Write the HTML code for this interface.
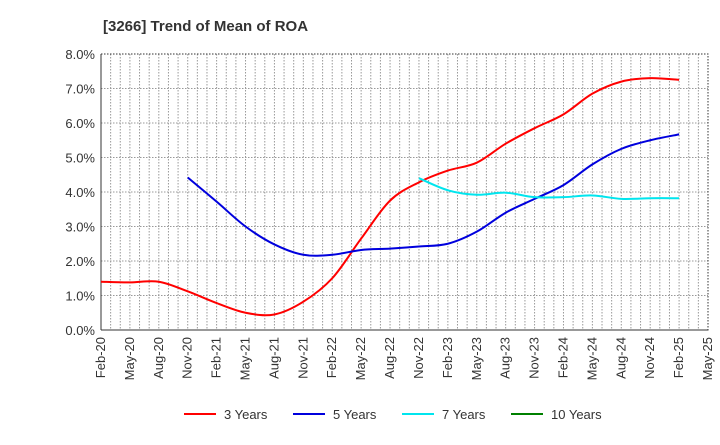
<!DOCTYPE html>
<html><head><meta charset="utf-8"><style>
body{margin:0;background:#fff;font-family:"Liberation Sans",sans-serif}
</style></head><body>
<svg id="c" width="720" height="440" xmlns="http://www.w3.org/2000/svg">
<text x="103" y="31" font-size="15" font-weight="bold" fill="#333">[3266]  Trend of Mean of ROA</text>
<g id="grid"></g><g id="axes"></g><g id="series"></g><g id="legend"></g>
</svg>
<script>
const xLabels=["Feb-20","May-20","Aug-20","Nov-20","Feb-21","May-21","Aug-21","Nov-21","Feb-22","May-22","Aug-22","Nov-22","Feb-23","May-23","Aug-23","Nov-23","Feb-24","May-24","Aug-24","Nov-24","Feb-25","May-25"];
const yTicks=[0,1,2,3,4,5,6,7,8];
const s3=[1.40,1.38,1.40,1.12,0.78,0.50,0.45,0.82,1.50,2.65,3.75,4.28,4.62,4.85,5.40,5.85,6.25,6.85,7.20,7.30,7.25];
const s5Start=3;
const s5=[4.42,3.72,3.00,2.48,2.18,2.18,2.32,2.36,2.42,2.50,2.85,3.40,3.80,4.20,4.80,5.25,5.50,5.67];
const s7Start=11;
const s7=[4.40,4.05,3.92,3.98,3.85,3.85,3.90,3.80,3.82,3.82];
const s10Start=0;
const s10=[];
const NS="http://www.w3.org/2000/svg";
const L=101,R=708,T=54,B=330;
const X=q=>L+(R-L)*q/(xLabels.length-1);
const Y=v=>B-(B-T)*v/8;
function mk(tag,attrs,parent){const e=document.createElementNS(NS,tag);for(const k in attrs)e.setAttribute(k,attrs[k]);parent.appendChild(e);return e;}
const grid=document.getElementById('grid'),axes=document.getElementById('axes'),ser=document.getElementById('series'),leg=document.getElementById('legend');
const nMonths=(xLabels.length-1)*3;
for(let m=1;m<nMonths;m++){const x=L+(R-L)*m/nMonths;const l=mk('line',{x1:x,x2:x,y1:T,y2:B,stroke:'#999','stroke-dasharray':'1.5,1.5','stroke-width':1},grid);

}
yTicks.forEach(v=>{if(v>0){const l=mk('line',{x1:L,x2:R,y1:Y(v),y2:Y(v),stroke:'#999','stroke-dasharray':'1.5,1.5'},grid);

}
const t=mk('text',{x:L-6,y:Y(v)+5,'text-anchor':'end','font-size':13,fill:'#333'},axes);t.textContent=v.toFixed(1)+'%';

});
const fr=mk('rect',{x:L,y:T,width:R-L,height:B-T,fill:'none',stroke:'#333','stroke-dasharray':'1.5,1.5'},axes);


const xa=mk('line',{x1:L,x2:R,y1:B,y2:B,stroke:'#333'},axes);


const ya=mk('line',{x1:L,x2:L,y1:T,y2:B,stroke:'#333'},axes);


xLabels.forEach((s,i)=>{const x=X(i);const t=mk('text',{x:0,y:0,'text-anchor':'end','font-size':13,fill:'#333',transform:`translate(${x+4},${B+7}) rotate(-90)`},axes);t.textContent=s;

});
function path(vals,start){const p=vals.map((v,i)=>[X(start+i),Y(v)]);if(p.length<2)return '';let d=`M${p[0][0]},${p[0][1]}`;
for(let i=0;i<p.length-1;i++){const p0=p[i-1]||p[i],p1=p[i],p2=p[i+1],p3=p[i+2]||p2;
d+=` C${p1[0]+(p2[0]-p0[0])/6},${p1[1]+(p2[1]-p0[1])/6} ${p2[0]-(p3[0]-p1[0])/6},${p2[1]-(p3[1]-p1[1])/6} ${p2[0]},${p2[1]}`;}return d;}
const defs=[[s3,0,'#ff0000','3 Years'],[s5,s5Start,'#0000dd','5 Years'],[s7,s7Start,'#00e5ee','7 Years'],[s10,s10Start,'#008000','10 Years']];
defs.forEach(([v,st,c,n],k)=>{const d=path(v,st);if(d){const p=mk('path',{d:d,fill:'none',stroke:c,'stroke-width':2},ser);

}
const lx=[184,293,402,511][k];const g=mk('g',{},leg);


mk('line',{x1:lx,x2:lx+32,y1:414,y2:414,stroke:c,'stroke-width':2},g);
const t=mk('text',{x:lx+40,y:419,'font-size':13,fill:'#333'},g);t.textContent=n;});
</script>
</body></html>
